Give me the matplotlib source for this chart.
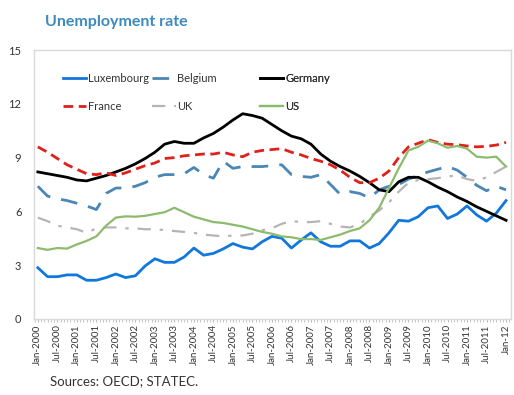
import numpy as np
import matplotlib
matplotlib.use("Agg")
import matplotlib.pyplot as plt
from matplotlib.ticker import MultipleLocator

plt.rcParams['font.family'] = ['Lato', 'DejaVu Sans']

# quarterly readings, Jan-2000 .. Jan-2012
months = list(range(0, 145, 3))

luxembourg = [2.85, 2.35, 2.35, 2.45, 2.45, 2.15, 2.15, 2.3, 2.5, 2.3, 2.4, 2.95,
              3.35, 3.15, 3.15, 3.45, 3.95, 3.55, 3.65, 3.9, 4.2, 4.0, 3.9, 4.3,
              4.6, 4.5, 3.95, 4.4, 4.8, 4.3, 4.05, 4.05, 4.35, 4.35, 3.95, 4.2,
              4.8, 5.5, 5.45, 5.7, 6.2, 6.3, 5.6, 5.85, 6.3, 5.8, 5.45, 5.9, 6.6]
belgium = [7.4, 6.85, 6.7, 6.6, 6.45, 6.3, 6.1, 7.0, 7.3, 7.3, 7.4, 7.6,
           7.9, 8.05, 8.05, 8.1, 8.45, 8.05, 7.85, 8.8, 8.4, 8.5, 8.5, 8.5,
           8.55, 8.6, 8.05, 7.95, 7.9, 8.05, 7.5, 6.95, 7.1, 7.0, 6.75, 7.2,
           7.4, 7.5, 7.8, 8.0, 8.2, 8.35, 8.5, 8.3, 7.9, 7.45, 7.15, 7.4, 7.2]
germany = [8.2, 8.1, 8.0, 7.9, 7.75, 7.7, 7.85, 8.0, 8.2, 8.4, 8.65, 8.95,
           9.3, 9.75, 9.9, 9.8, 9.8, 10.1, 10.35, 10.7, 11.1, 11.45, 11.35, 11.2,
           10.85, 10.5, 10.2, 10.05, 9.75, 9.2, 8.8, 8.5, 8.25, 7.95, 7.6, 7.2,
           7.1, 7.65, 7.9, 7.9, 7.65, 7.35, 7.1, 6.8, 6.55, 6.25, 6.0, 5.75, 5.5]
france = [9.6, 9.3, 8.95, 8.6, 8.35, 8.1, 8.05, 8.15, 8.0, 8.15, 8.35, 8.55,
          8.7, 8.95, 9.0, 9.1, 9.15, 9.2, 9.2, 9.3, 9.15, 9.05, 9.3, 9.4,
          9.45, 9.5, 9.3, 9.15, 8.95, 8.8, 8.6, 8.3, 7.9, 7.6, 7.6, 7.85,
          8.25, 9.0, 9.6, 9.8, 10.0, 9.85, 9.75, 9.72, 9.65, 9.6, 9.63, 9.7, 9.85]
uk = [5.65, 5.45, 5.2, 5.1, 5.0, 4.8, 5.05, 5.1, 5.1, 5.05, 5.05, 5.0,
      5.0, 4.95, 4.9, 4.85, 4.8, 4.7, 4.65, 4.6, 4.65, 4.65, 4.75, 4.95,
      5.05, 5.3, 5.45, 5.4, 5.4, 5.45, 5.3, 5.15, 5.1, 5.3, 5.7, 6.05,
      6.5, 7.1, 7.6, 7.75, 7.8, 7.85, 7.95, 8.0, 7.8, 7.7, 7.9, 8.2, 8.5]
us = [3.95, 3.85, 3.95, 3.92, 4.15, 4.35, 4.6, 5.2, 5.65, 5.72, 5.7, 5.75,
      5.85, 5.95, 6.2, 5.95, 5.7, 5.55, 5.4, 5.35, 5.25, 5.15, 5.0, 4.85,
      4.75, 4.6, 4.55, 4.45, 4.45, 4.4, 4.55, 4.7, 4.9, 5.05, 5.5, 6.2,
      7.3, 8.4, 9.4, 9.6, 9.95, 9.8, 9.55, 9.65, 9.5, 9.05, 9.0, 9.05, 8.5]

tick_labels = []
for yr in range(2000, 2012):
    tick_labels += [f"Jan-{yr}", f"Jul-{yr}"]
tick_labels.append("Jan-12")

fig = plt.figure(figsize=(5.14, 3.95), dpi=100)
ax = fig.add_axes([0.066, 0.193, 0.928, 0.68])

lux, = ax.plot(months, luxembourg, color='#1177DD', lw=2.0, label='Luxembourg')
bel, = ax.plot(months, belgium, color='#4A86B6', lw=2.0, dashes=(6, 4), label='Belgium')
ger, = ax.plot(months, germany, color='black', lw=2.0, label='Germany')
fra, = ax.plot(months, france, color='#E0201B', lw=2.0, dashes=(3.5, 2), label='France')
ukl, = ax.plot(months, uk, color='#B5B5B5', lw=1.6, dashes=(6, 4, 1.5, 4), label='UK')
usl, = ax.plot(months, us, color='#8DBB6E', lw=1.6, label='US')

ax.set_xlim(-1.2, 145.5)
ax.set_ylim(0, 15)
ax.set_yticks(range(0, 16, 3))
ax.set_xticks(range(0, 145, 6))
ax.set_xticklabels(tick_labels, rotation=90, fontsize=7, color='#333333')
ax.xaxis.set_minor_locator(MultipleLocator(1))
ax.tick_params(axis='x', which='both', length=2, color='#BBBBBB', pad=2)
ax.tick_params(axis='y', length=0, pad=9, labelsize=8, labelcolor='#333333')
for sp in ax.spines.values():
    sp.set_color('#D9D9D9')
    sp.set_linewidth(1.0)

# legend laid out as three columns, like the spreadsheet one
col_x = [0.061, 0.248, 0.474]
for cx, pair in zip(col_x, [(lux, fra), (bel, ukl), (ger, usl)]):
    leg = ax.legend(handles=list(pair), frameon=False, fontsize=8,
                    loc='upper left', bbox_to_anchor=(cx, 0.915),
                    borderpad=0, borderaxespad=0, handlelength=2.1,
                    handletextpad=0.15, labelspacing=1.5,
                    labelcolor='#333333')
    ax.add_artist(leg)

fig.text(0.088, 0.944, "Unemployment rate", fontsize=11.5, fontweight='bold',
         color='#3C8AC0', va='center')
fig.text(0.097, 0.025, "Sources: OECD; STATEC.", fontsize=9.5, color='#333333')

fig.savefig('out.png', dpi=100)
